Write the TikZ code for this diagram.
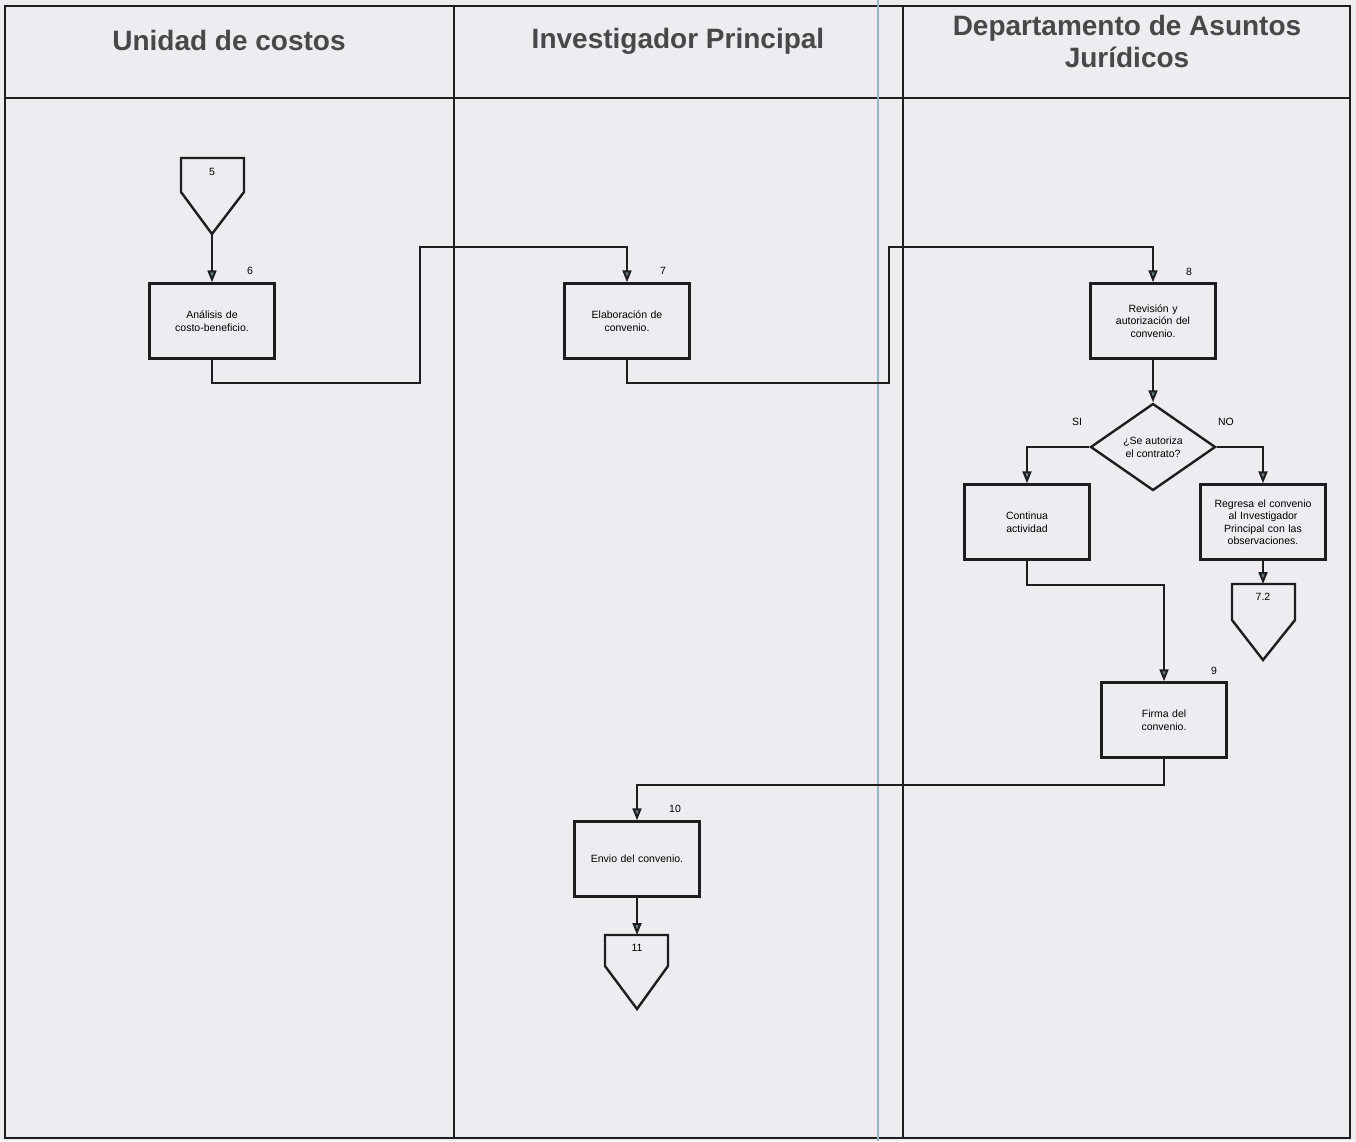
\documentclass[tikz,border=0pt]{standalone}
\usepackage{fontspec}
\setmainfont{Liberation Sans}
\usetikzlibrary{arrows.meta,shapes.geometric}
\definecolor{bgc}{RGB}{238,236,240}
\definecolor{headc}{RGB}{72,72,72}
\definecolor{arrowc}{RGB}{105,125,135}
\definecolor{scanblue}{RGB}{150,182,200}
\definecolor{linec}{RGB}{30,30,30}
\tikzset{
  frame/.style={draw=linec, line width=1.6pt},
  headtxt/.style={font=\fontsize{28}{32}\selectfont\bfseries, text=headc, align=center},
  procbox/.style={draw=linec, line width=2.4pt, minimum width=125pt, minimum height=75pt, inner sep=2pt, align=center, text width=118pt, font=\fontsize{10.5}{12.5}\selectfont},
  decis/.style={diamond, draw=linec, line width=2.4pt, minimum width=125pt, minimum height=87pt, inner sep=0pt, align=center, font=\fontsize{10.5}{12.5}\selectfont},
  offp/.style={draw=linec, line width=2.4pt, line join=miter},
  numtxt/.style={font=\fontsize{10.5}{12}\selectfont, inner sep=0pt},
  conn/.style={draw=linec, line width=2pt, -{Triangle[length=12pt,width=9pt,fill=arrowc]}},
}
\begin{document}
\begin{tikzpicture}[x=1pt,y=-1pt]
\useasboundingbox (0,0) rectangle (1356,1141);
\fill[bgc] (0,0) rectangle (1356,1141);
% frame and lanes
\draw[frame] (5,6) rectangle (1350,1138);
\draw[frame] (5,98) -- (1350,98);
\draw[frame] (454,6) -- (454,1138);
\draw[frame] (903,6) -- (903,1138);
\draw[scanblue, line width=2.5pt] (878,0) -- (878,1141);
% headers
\node[headtxt] (h1) at (229,40) {Unidad de costos};
\node[headtxt] (h2) at (678,41) {Investigador Principal};
\node[headtxt] (h3) at (1127,41) {Departamento de Asuntos\\Jurídicos};
% off-page connector 5
\draw[offp] (181,158) -- (244,158) -- (244,192) -- (212,234) -- (181,192) -- cycle;
\node[numtxt] (c5) at (212,172) {5};
\coordinate (c5tip) at (212,234);
% boxes
\node[procbox] (b6) at (212,321) {Análisis de\\costo-beneficio.};
\node[numtxt] (n6) at (250,271) {6};
\node[procbox] (b7) at (627,321) {Elaboración de\\convenio.};
\node[numtxt] (n7) at (663,271) {7};
\node[procbox] (b8) at (1153,321) {Revisión y\\autorización del\\convenio.};
\node[numtxt] (n8) at (1189,272) {8};
\node[decis] (d1) at (1153,447) {¿Se autoriza\\el contrato?};
\node[numtxt] (si) at (1077,422) {SI};
\node[numtxt] (no) at (1226,422) {NO};
\node[procbox] (bc) at (1027,522) {Continua\\actividad};
\node[procbox] (br) at (1263,522) {Regresa el convenio\\al Investigador\\Principal con las\\observaciones.};
% off-page 7.2
\draw[offp] (1232,584) -- (1295,584) -- (1295,620) -- (1263,660) -- (1232,620) -- cycle;
\node[numtxt] (c72) at (1263,597) {7.2};
\coordinate (c72top) at (1263,584);
\node[procbox] (b9) at (1164,720) {Firma del\\convenio.};
\node[numtxt] (n9) at (1214,671) {9};
\node[procbox] (b10) at (637,859) {Envio del convenio.};
\node[numtxt] (n10) at (675,809) {10};
% off-page 11
\draw[offp] (605,935) -- (668,935) -- (668,966) -- (637,1009) -- (605,966) -- cycle;
\node[numtxt] (c11) at (637,948) {11};
\coordinate (c11top) at (637,935);
% connectors
\draw[conn] (c5tip) -- (b6.north);
\draw[conn] (b6.south) -- (212,383) -- (420,383) -- (420,247) -- (627,247) -- (b7.north);
\draw[conn] (b7.south) -- (627,383) -- (889,383) -- (889,247) -- (1153,247) -- (b8.north);
\draw[conn] (b8.south) -- (d1.north);
\draw[conn] (d1.west) -- (1027,447) -- (bc.north);
\draw[conn] (d1.east) -- (1263,447) -- (br.north);
\draw[conn] (br.south) -- (c72top);
\draw[conn] (bc.south) -- (1027,585) -- (1164,585) -- (b9.north);
\draw[conn] (b9.south) -- (1164,785) -- (637,785) -- (b10.north);
\draw[conn] (b10.south) -- (c11top);
\end{tikzpicture}
\end{document}
